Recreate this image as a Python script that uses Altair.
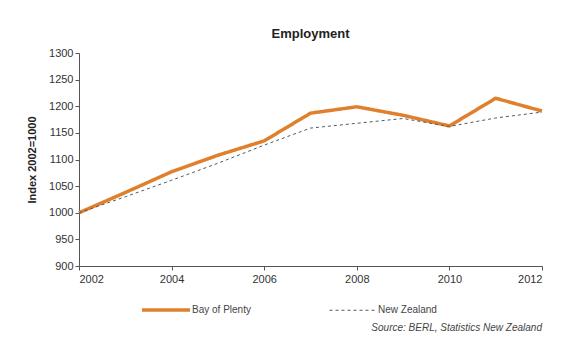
import altair as alt
import pandas as pd

years = list(range(2002, 2013))
bay_of_plenty = [1000, 1038, 1077, 1108, 1135, 1187, 1199, 1183, 1163, 1215, 1191]
new_zealand = [1000, 1030, 1061, 1093, 1127, 1159, 1168, 1177, 1162, 1178, 1189]
series_names = ["Bay of Plenty", "New Zealand"]
x_ticks = [2002, 2004, 2006, 2008, 2010, 2012]
y_ticks = [900, 950, 1000, 1050, 1100, 1150, 1200, 1250, 1300]

df = pd.concat([
    pd.DataFrame({"Year": years, "Index": bay_of_plenty, "Series": series_names[0]}),
    pd.DataFrame({"Year": years, "Index": new_zealand, "Series": series_names[1]}),
])

lines = alt.Chart(df).mark_line().encode(
    x=alt.X("Year:Q", scale=alt.Scale(domain=[2002, 2012], nice=False),
            axis=alt.Axis(values=x_ticks, format="d", title=None, grid=False,
                          labelFontSize=11, labelColor="#333", domainColor="#555",
                          tickColor="#555", tickSize=4, labelPadding=3)),
    y=alt.Y("Index:Q", scale=alt.Scale(domain=[900, 1300], nice=False, zero=False),
            axis=alt.Axis(values=y_ticks, format="d", title="Index 2002=1000", grid=False,
                          labelFontSize=11, labelColor="#333", domainColor="#555",
                          tickColor="#555", tickSize=4, titleFontSize=11,
                          titleFontWeight="bold", titleColor="#222", titlePadding=11)),
    color=alt.Color("Series:N", scale=alt.Scale(domain=series_names, range=["#E0802C", "#4A5A6A"]),
                    legend=alt.Legend(title=None, orient="none", legendX=61, legendY=231,
                                      direction="horizontal", symbolType="stroke",
                                      symbolSize=2304, labelFontSize=10, labelColor="#444",
                                      columnPadding=76, labelOffset=0)),
    strokeDash=alt.StrokeDash("Series:N", scale=alt.Scale(domain=series_names, range=[[1, 0], [3, 3]]), legend=None),
    strokeWidth=alt.StrokeWidth("Series:N", scale=alt.Scale(domain=series_names, range=[3.5, 1]), legend=None),
    order=alt.Order("Series:N", sort="descending"),
)

source = alt.Chart(pd.DataFrame({"t": ["Source: BERL, Statistics New Zealand"]})).mark_text(
    align="right", baseline="middle", fontStyle="italic", fontSize=10, color="#444"
).encode(text="t:N", x=alt.value(463), y=alt.value(275))

chart = alt.layer(lines, source).properties(
    width=463, height=213,
    title=alt.TitleParams("Employment", fontSize=13, fontWeight="bold", color="#222", anchor="middle", offset=6),
    autosize=alt.AutoSizeParams(type="none"),
    padding={"left": 71, "top": 45, "right": 26, "bottom": 68},
    background="white",
).configure_view(stroke=None)

chart.save("out.html", embed_options={"renderer": "svg", "actions": False})
